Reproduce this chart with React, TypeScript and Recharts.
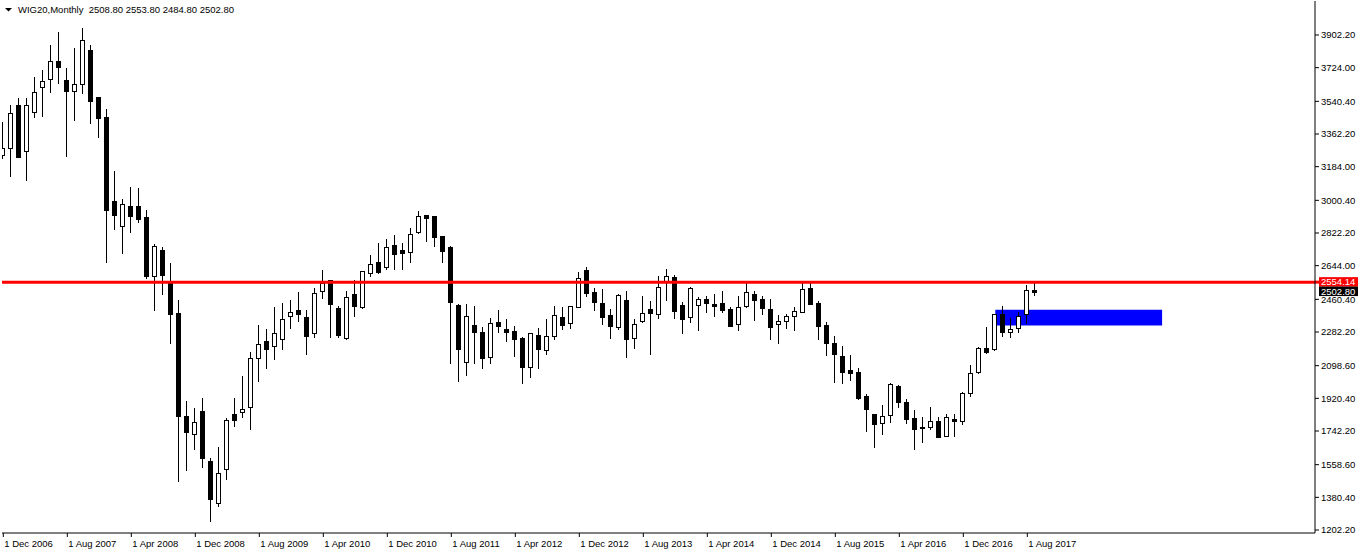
import React from 'react';
import { ComposedChart, Bar, XAxis, YAxis, ReferenceLine, ReferenceArea } from 'recharts';

// ---------- data ----------
const symbolTitle = 'WIG20,Monthly';

// monthly candles, Dec 2006 .. Sep 2017 (index 0 = Dec 2006)
const opens = [
  3247.7, 3284.2, 3520.4, 3271.1, 3483.8, 3616.9, 3660.6, 3758.7, 3656.7, 3598.4,
  3633.3, 3820.4, 3562.4, 3453.3, 2996.7, 2862.0, 2969.5, 2969.5, 2909.5, 2589.3,
  2729.5, 2547.8, 2387.5, 1824.0, 1724.2, 1852.9, 1578.6, 1347.8, 1533.3, 1834.9,
  1847.5, 1871.5, 2138.7, 2233.1, 2207.5, 2242.4, 2371.1, 2402.2, 2362.4, 2278.4,
  2507.5, 2565.8, 2414.7, 2247.8, 2487.8, 2420.2, 2602.4, 2662.4, 2638.4, 2756.7,
  2729.5, 2716.9, 2826.0, 2920.4, 2915.0, 2805.8, 2744.2, 2429.5, 2120.2, 2318.7,
  2280.6, 2147.5, 2336.7, 2298.6, 2287.6, 2247.8, 2089.6, 2264.2, 2182.4, 2260.4,
  2362.4, 2329.6, 2416.9, 2620.4, 2498.7, 2438.7, 2373.3, 2311.1, 2455.1, 2247.8,
  2343.8, 2406.0, 2378.7, 2553.3, 2580.6, 2427.8, 2362.4, 2427.8, 2460.6, 2434.9,
  2438.7, 2406.0, 2324.2, 2424.0, 2487.8, 2460.6, 2406.0, 2324.2, 2343.8, 2371.1,
  2389.6, 2520.6, 2438.7, 2318.7, 2220.6, 2151.3, 2074.9, 2062.4, 1933.1, 1834.9,
  1784.2, 1827.8, 1987.6, 1898.7, 1811.5, 1762.4, 1762.4, 1796.7, 1714.9, 1806.0,
  1798.4, 1947.8, 2065.6, 2193.3, 2187.8, 2378.7, 2280.6, 2302.4, 2378.7, 2508.8,
];
const highs = [
  3429.3, 3520.4, 3556.9, 3556.9, 3671.5, 3711.3, 3847.6, 3916.9, 3720.6, 3829.6,
  3938.7, 3847.6, 3562.4, 3496.9, 3160.4, 3007.6, 3071.5, 3066.0, 2947.6, 2762.2,
  2747.5, 2660.2, 2456.7, 1907.5, 1866.0, 1920.6, 1593.3, 1656.6, 1811.5, 1920.6,
  2042.2, 2171.5, 2320.4, 2298.6, 2416.9, 2438.7, 2456.7, 2498.7, 2402.2, 2520.6,
  2620.4, 2565.8, 2424.0, 2505.8, 2565.8, 2614.9, 2702.2, 2769.3, 2789.5, 2811.3,
  2769.3, 2851.1, 2942.2, 2920.4, 2915.0, 2805.8, 2751.3, 2434.9, 2434.9, 2424.0,
  2307.8, 2356.9, 2402.2, 2353.1, 2314.9, 2253.3, 2275.1, 2304.0, 2353.1, 2424.0,
  2416.9, 2422.4, 2611.1, 2635.1, 2520.6, 2515.1, 2406.0, 2487.8, 2507.5, 2351.5,
  2478.6, 2451.3, 2587.6, 2625.8, 2593.1, 2444.2, 2526.0, 2474.7, 2480.2, 2489.5,
  2505.8, 2416.9, 2478.6, 2547.8, 2505.8, 2478.6, 2460.6, 2374.9, 2378.7, 2416.9,
  2547.8, 2547.8, 2451.3, 2336.7, 2260.4, 2205.8, 2156.7, 2084.2, 1944.0, 1834.9,
  1884.0, 2002.4, 1993.1, 1915.1, 1856.7, 1820.2, 1874.7, 1820.2, 1833.3, 1834.9,
  1956.6, 2102.2, 2201.0, 2309.5, 2383.1, 2424.0, 2356.9, 2392.9, 2538.6, 2553.8,
];
const lows = [
  3231.3, 3134.7, 3235.1, 3111.3, 3456.6, 3460.4, 3592.9, 3642.0, 3243.8, 3438.6,
  3587.5, 3423.8, 3344.2, 2665.6, 2844.0, 2714.7, 2829.3, 2883.8, 2578.4, 2402.2,
  2489.5, 2223.8, 1471.1, 1529.5, 1642.4, 1544.2, 1252.9, 1334.7, 1480.4, 1769.5,
  1816.9, 1753.1, 2014.9, 2087.5, 2134.9, 2189.5, 2305.6, 2343.8, 2162.2, 2256.6,
  2469.3, 2256.6, 2256.6, 2242.4, 2369.5, 2411.5, 2587.6, 2605.6, 2625.8, 2625.8,
  2625.8, 2665.6, 2820.6, 2780.2, 2751.3, 2662.4, 2114.7, 2014.9, 2047.6, 2114.7,
  2087.5, 2114.7, 2283.8, 2234.7, 2151.3, 2005.6, 2038.4, 2087.5, 2160.6, 2242.4,
  2300.2, 2304.0, 2416.9, 2478.6, 2402.2, 2325.8, 2251.1, 2300.2, 2147.5, 2196.6,
  2338.4, 2162.2, 2356.9, 2456.7, 2360.2, 2278.4, 2335.1, 2293.1, 2392.9, 2371.1,
  2392.9, 2316.6, 2293.1, 2420.2, 2347.6, 2380.4, 2244.0, 2223.8, 2305.6, 2293.1,
  2389.6, 2434.9, 2244.0, 2156.7, 2011.1, 2005.6, 2020.4, 1916.7, 1742.2, 1656.6,
  1724.2, 1792.9, 1874.7, 1787.5, 1642.4, 1683.8, 1751.5, 1707.8, 1714.9, 1714.9,
  1778.7, 1934.7, 2060.2, 2167.6, 2185.0, 2262.0, 2256.6, 2283.8, 2332.9, 2484.8,
];
const closes = [
  3284.2, 3478.4, 3238.4, 3518.7, 3589.6, 3651.3, 3758.7, 3729.3, 3598.4, 3633.3,
  3873.3, 3543.8, 3451.1, 2947.6, 2920.4, 2978.7, 2914.9, 2898.6, 2587.6, 2751.3,
  2593.1, 2380.4, 1824.0, 1738.4, 1789.6, 1593.3, 1371.3, 1511.5, 1802.2, 1802.2,
  1860.6, 2138.7, 2215.1, 2189.5, 2275.1, 2353.1, 2389.6, 2380.4, 2262.0, 2493.3,
  2547.8, 2433.3, 2265.8, 2471.5, 2425.6, 2614.9, 2651.5, 2611.1, 2744.2, 2706.0,
  2714.7, 2816.7, 2915.0, 2902.4, 2798.7, 2725.6, 2447.5, 2187.8, 2371.1, 2283.8,
  2142.0, 2329.6, 2316.6, 2283.8, 2242.4, 2092.9, 2275.1, 2187.8, 2258.7, 2373.3,
  2318.7, 2422.4, 2578.4, 2493.3, 2447.5, 2365.6, 2316.6, 2482.4, 2245.6, 2324.2,
  2384.2, 2387.5, 2526.0, 2587.6, 2396.7, 2354.7, 2520.6, 2460.6, 2438.7, 2425.6,
  2402.2, 2316.6, 2416.9, 2498.7, 2456.7, 2414.7, 2311.1, 2342.2, 2369.5, 2396.7,
  2515.1, 2434.9, 2316.6, 2223.8, 2163.8, 2065.6, 2060.2, 1923.8, 1860.6, 1778.7,
  1824.0, 1996.9, 1897.7, 1806.0, 1751.5, 1756.9, 1796.7, 1707.8, 1816.9, 1798.4,
  1947.8, 2056.9, 2193.3, 2174.7, 2378.7, 2280.6, 2296.9, 2371.1, 2508.8, 2502.8,
];

const xTickIndex = [0, 8, 16, 24, 32, 40, 48, 56, 64, 72, 80, 88, 96, 104, 112, 120, 128];
const xTickLabels = [
  '1 Dec 2006', '1 Aug 2007', '1 Apr 2008', '1 Dec 2008', '1 Aug 2009', '1 Apr 2010',
  '1 Dec 2010', '1 Aug 2011', '1 Apr 2012', '1 Dec 2012', '1 Aug 2013', '1 Apr 2014',
  '1 Dec 2014', '1 Aug 2015', '1 Apr 2016', '1 Dec 2016', '1 Aug 2017',
];
const yTicks = [
  1202.2, 1380.4, 1558.6, 1742.2, 1920.4, 2098.6, 2282.2, 2460.4,
  2644.0, 2822.2, 3000.4, 3184.0, 3362.2, 3540.4, 3724.0, 3902.2,
];

const resistanceLevel = 2554.14;
const zoneStartIndex = 124;
const zoneEndIndex = 144.85;
const zoneLow = 2317.1;
const zoneHigh = 2403.8;

// visible range of the window
const xDomain = [-0.1625, 163.9625];
const yDomain = [1185.84, 4087.65];

const candles = opens.map((open, i) => ({
  i,
  open,
  high: highs[i],
  low: lows[i],
  close: closes[i],
  range: [lows[i], highs[i]],
}));
const last = candles[candles.length - 1];

const FONT = '"Liberation Sans", Arial, sans-serif';

// ---------- drawing helpers ----------
function Candle(props: any) {
  const { x, y, width, height, payload } = props;
  if (!payload || x == null || y == null) return null;
  const top = Math.min(y, y + height);
  const h = Math.abs(height);
  const { open, high, low, close } = payload;
  const span = high - low;
  const k = span > 0 ? h / span : 0;
  const yOf = (v: number) => top + (high - v) * k;
  const cx = Math.floor(x + width / 2) + 0.5;
  const yo = yOf(open);
  const yc = yOf(close);
  const bTop = Math.round(Math.min(yo, yc)) + 0.5;
  const bBot = Math.round(Math.max(yo, yc)) + 0.5;
  const bull = close >= open;
  return (
    <g>
      <line x1={cx} x2={cx} y1={Math.round(top)} y2={Math.round(top + h) + 1} stroke="#000" strokeWidth={1} />
      <rect
        x={cx - 2}
        y={bTop}
        width={4}
        height={Math.max(bBot - bTop, 0)}
        fill={bull ? '#ffffff' : '#000000'}
        stroke="#000"
        strokeWidth={1}
      />
    </g>
  );
}

function PriceTag(props: any) {
  const { viewBox, price, bg, withLine } = props;
  if (!viewBox) return null;
  const right = viewBox.x + viewBox.width;
  const y = viewBox.y;
  return (
    <g>
      {withLine && <line x1={right} x2={right + 4} y1={y} y2={y} stroke={bg} strokeWidth={3} />}
      <rect x={right + 4} y={y - 5} width={44} height={9.5} fill={bg} />
      <text
        x={right + 6}
        y={y - 0.3}
        dominantBaseline="central"
        fill="#ffffff"
        fontSize={9.5}
        fontFamily={FONT}
      >
        {price.toFixed(2)}
      </text>
    </g>
  );
}

function BottomTick(props: any) {
  const { x, y, payload } = props;
  const idx = xTickIndex.indexOf(payload.value);
  const label = idx >= 0 ? xTickLabels[idx] : '';
  return (
    <text x={x + 1} y={y + 6} dominantBaseline="central" textAnchor="start" fill="#000" fontSize={9.5} fontFamily={FONT}>
      {label}
    </text>
  );
}

export default function App() {
  return (
    <div style={{ position: 'absolute', left: 0, top: 0, width: 1358, height: 554, background: '#fff' }}>
      <ComposedChart
        width={1358}
        height={554}
        data={candles}
        margin={{ top: 1, right: 0, bottom: 0, left: 2 }}
      >
        <XAxis
          dataKey="i"
          type="number"
          domain={xDomain}
          allowDataOverflow
          ticks={xTickIndex}
          interval={0}
          height={21}
          tickSize={4}
          tickMargin={0}
          tickLine={{ stroke: '#000' }}
          axisLine={{ stroke: '#000' }}
          tick={<BottomTick />}
        />
        <XAxis
          xAxisId="top"
          dataKey="i"
          type="number"
          orientation="top"
          domain={xDomain}
          allowDataOverflow
          height={0}
          tick={false}
          tickLine={false}
          axisLine={{ stroke: '#000' }}
        />
        <YAxis
          yAxisId="p"
          orientation="right"
          type="number"
          domain={yDomain}
          allowDataOverflow
          ticks={yTicks}
          interval={0}
          width={43}
          tickSize={4}
          tickMargin={2}
          tickLine={{ stroke: '#000' }}
          axisLine={{ stroke: '#000' }}
          tickFormatter={(v: number) => v.toFixed(2)}
          tick={{ fill: '#000', fontSize: 9.5, fontFamily: FONT }}
        />
        <YAxis
          yAxisId="l"
          orientation="left"
          type="number"
          domain={yDomain}
          allowDataOverflow
          width={0}
          tick={false}
          tickLine={false}
          axisLine={{ stroke: '#000' }}
        />
        <ReferenceArea
          yAxisId="p"
          x1={zoneStartIndex}
          x2={zoneEndIndex}
          y1={zoneLow}
          y2={zoneHigh}
          fill="#0000ff"
          fillOpacity={1}
          stroke="none"
        />
        <Bar
          yAxisId="p"
          dataKey="range"
          barSize={5}
          shape={<Candle />}
          isAnimationActive={false}
        />
        <ReferenceLine
          yAxisId="p"
          y={resistanceLevel}
          stroke="#ff0000"
          strokeWidth={3}
          label={<PriceTag price={resistanceLevel} bg="#ff0000" withLine />}
        />
        <ReferenceLine
          yAxisId="p"
          y={last.close}
          stroke="none"
          strokeOpacity={0}
          label={<PriceTag price={last.close} bg="#000000" />}
        />
      </ComposedChart>
      <div style={{ position: 'absolute', left: 0, top: 0, height: 20, pointerEvents: 'none' }}>
        <svg width={14} height={20} style={{ position: 'absolute', left: 0, top: 0 }}>
          <polygon points="5,8 12,8 8.5,11.5" fill="#000" />
        </svg>
        <span
          style={{
            position: 'absolute',
            left: 18,
            top: 4,
            whiteSpace: 'pre',
            fontFamily: FONT,
            fontSize: 9.5,
            lineHeight: '12px',
            color: '#000',
          }}
        >
          {`${symbolTitle}  ${last.open.toFixed(2)} ${last.high.toFixed(2)} ${last.low.toFixed(2)} ${last.close.toFixed(2)}`}
        </span>
      </div>
    </div>
  );
}
